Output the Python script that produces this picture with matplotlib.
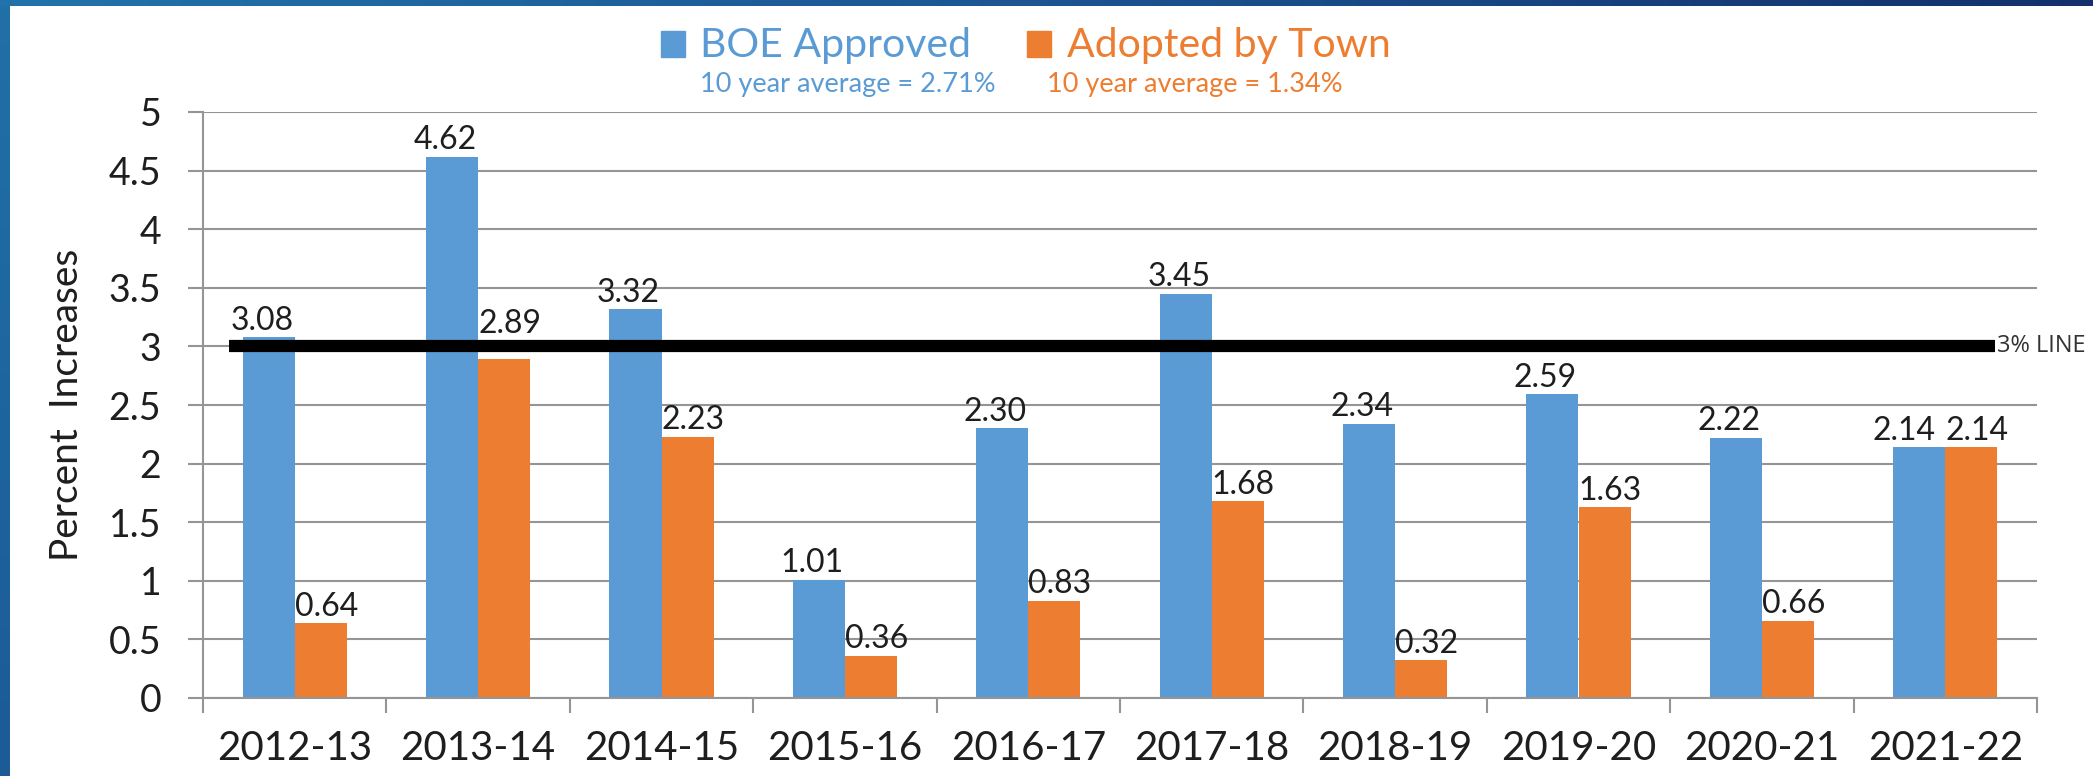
import matplotlib.pyplot as plt
import numpy as np
from matplotlib.patches import Rectangle
from matplotlib.colors import LinearSegmentedColormap

# data
years = ['2012-13', '2013-14', '2014-15', '2015-16', '2016-17',
         '2017-18', '2018-19', '2019-20', '2020-21', '2021-22']
boe = [3.08, 4.62, 3.32, 1.01, 2.30, 3.45, 2.34, 2.59, 2.22, 2.14]
town = [0.64, 2.89, 2.23, 0.36, 0.83, 1.68, 0.32, 1.63, 0.66, 2.14]
boe_avg = 2.71
town_avg = 1.34
threshold = 3

blue = '#5B9BD5'
orange = '#ED7D31'
grey = '#959595'
txt = '#1e1e1e'

plt.rcParams['font.family'] = ['Lato', 'DejaVu Sans']

W, H = 2093, 776
fig = plt.figure(figsize=(W / 100, H / 100), dpi=100)
fig.patch.set_facecolor('white')

# blue slide frame (top and left band)
top = fig.add_axes([0, 1 - 6 / H, 1, 6 / H])
top.imshow(np.linspace(0, 1, 256)[None, :], aspect='auto',
           cmap=LinearSegmentedColormap.from_list('t', ['#2273ab', '#1b5592', '#13306c']))
top.axis('off')
left = fig.add_axes([0, 0, 10 / W, 1 - 6 / H])
left.imshow(np.linspace(0, 1, 256)[:, None], aspect='auto',
            cmap=LinearSegmentedColormap.from_list('l', ['#2170a8', '#1b5b96']))
left.axis('off')

ax = fig.add_axes([203 / W, 1 - 698 / H, 1834 / W, 586 / H])

x = np.arange(len(years))
bw = 0.284
ax.bar(x - bw / 2, boe, bw, color=blue, zorder=2)
ax.bar(x + bw / 2, town, bw, color=orange, zorder=2)


def put_labels(xs, vals, others, dx):
    for xi, v, o in zip(xs, vals, others):
        y = v
        # labels that would sit on the 3% line are lifted above it
        if threshold - 0.3 < v < threshold:
            y = threshold + 0.05
        d = dx
        # push the left label aside when both labels are at the same height
        if dx < 0 and abs(v - o) < 0.25:
            d = dx * 2.2
        ax.annotate('%.2f' % v, (xi, y), xytext=(d, 1), textcoords='offset points',
                    ha='center', va='bottom', fontsize=23, color=txt, zorder=5)


put_labels(x - bw / 2, boe, town, -5)
put_labels(x + bw / 2, town, boe, 4)

# 3% line
ax.axhline(threshold, xmin=0.0142, xmax=0.978, color='black', lw=8.8, zorder=3,
           solid_capstyle='butt')
ax.text(0.978, threshold, '3% LINE', transform=ax.get_yaxis_transform(),
        ha='left', va='center', fontsize=17, color='#333333', family='Open Sans',
        zorder=4, bbox=dict(facecolor='white', edgecolor='none', pad=1))

ax.set_xlim(-0.5, len(years) - 0.5)
ax.set_ylim(0, 5)
ax.set_yticks(np.arange(0, 5.01, 0.5))
ax.set_yticklabels(['0', '0.5', '1', '1.5', '2', '2.5', '3', '3.5', '4', '4.5', '5'])
ax.set_xticks(x)
ax.set_xticklabels(years)
ax.set_xticks(np.arange(-0.5, len(years)), minor=True)
ax.tick_params(axis='x', which='major', length=0, pad=23, labelsize=29, labelcolor=txt)
ax.tick_params(axis='x', which='minor', length=11, width=1.5, color=grey, direction='out')
ax.tick_params(axis='y', length=11, width=1.5, color=grey, pad=19, labelsize=27, labelcolor=txt)

ax.grid(axis='y', color=grey, lw=1.5, zorder=0)
ax.set_axisbelow(True)
for s in ['top', 'right']:
    ax.spines[s].set_visible(False)
for s in ['left', 'bottom']:
    ax.spines[s].set_color(grey)
    ax.spines[s].set_linewidth(1.5)

ax.set_ylabel('Percent  Increases', fontsize=28, color=txt)
ax.yaxis.set_label_coords(-0.0742, 0.5)
ax.yaxis.label.set_va('center')

# legend at the top
fig.add_artist(Rectangle((661 / W, 1 - 57 / H), 24 / W, 26 / H, color=blue,
                         transform=fig.transFigure))
fig.text(700 / W, 1 - 57 / H, 'BOE Approved', color=blue, fontsize=29.5, va='baseline')
fig.text(700 / W, 1 - 92 / H, '10 year average = %.2f%%' % boe_avg, color=blue,
         fontsize=19.5, va='baseline')
fig.add_artist(Rectangle((1027 / W, 1 - 57 / H), 24 / W, 26 / H, color=orange,
                         transform=fig.transFigure))
fig.text(1067 / W, 1 - 57 / H, 'Adopted by Town', color=orange, fontsize=29.5, va='baseline')
fig.text(1047 / W, 1 - 92 / H, '10 year average = %.2f%%' % town_avg, color=orange,
         fontsize=19.5, va='baseline')

fig.savefig('out.png', dpi=100)
